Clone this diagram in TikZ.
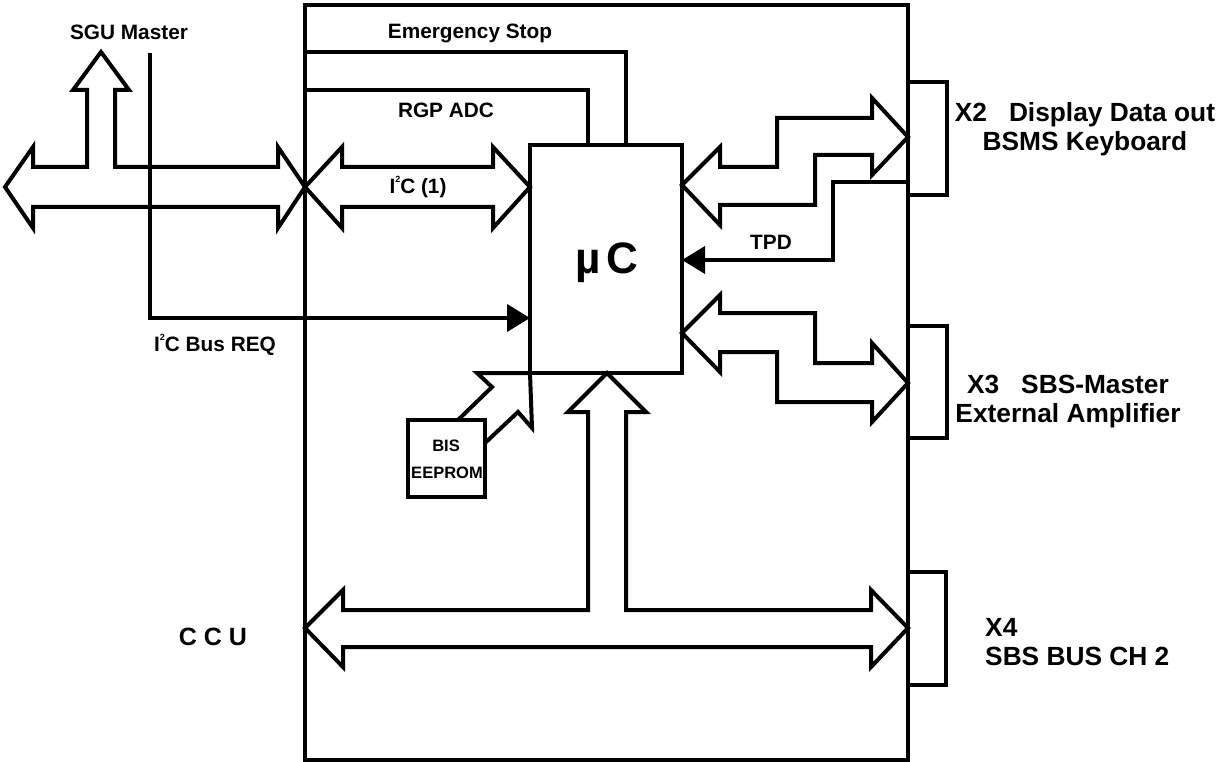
\documentclass[tikz,border=0pt]{standalone}
\usepackage{fontspec}
\setmainfont{Liberation Sans}
\usetikzlibrary{arrows.meta}
\newcommand{\tinysup}[1]{\raisebox{0.5em}{\fontsize{9}{9}\selectfont #1}}
\tikzset{
  wire/.style={line width=4pt, line join=miter},
  blockarrow/.style={line width=4pt, line join=miter},
  lbl/.style={font=\fontsize{20.8}{24}\selectfont\bfseries, inner sep=0pt},
  biglbl/.style={font=\fontsize{26.3}{29}\selectfont\bfseries, inner sep=0pt},
  smalllbl/.style={font=\fontsize{16.5}{19}\selectfont\bfseries, inner sep=0pt},
  boxshape/.style={draw, line width=4pt, inner sep=0pt, outer sep=0pt, rectangle},
  filledtip/.style={-{Triangle[length=23pt,width=27pt]}}
}
\begin{document}
\begin{tikzpicture}[x=1pt,y=-1pt]
\useasboundingbox (0,0) rectangle (1216,762);

% boxes
\node[boxshape, minimum width=603pt, minimum height=755pt] (main) at (606.5,382.5) {};
\node[boxshape, minimum width=152pt, minimum height=228pt] (uc) at (606,259) {};
\node[boxshape, minimum width=77pt, minimum height=77pt] (eeprom) at (446.5,458.5) {};

% connectors X2, X3, X4
\draw[wire] (main.east |- 0,82) -- (947,82) -- (947,195) -- (main.east |- 0,195);
\draw[wire] (main.east |- 0,326) -- (947,326) -- (947,438) -- (main.east |- 0,438);
\draw[wire] (main.east |- 0,572) -- (946,572) -- (946,685) -- (main.east |- 0,685);

% SGU T-arrow
\draw[blockarrow] (5,187) -- (33,147) -- (33,167) -- (87,167) -- (87,90) -- (73,90) -- (101,52)
  -- (129,90) -- (115,90) -- (115,167) -- (278,167) -- (278,147) -- (main.west |- 0,187)
  -- (278,228) -- (278,207) -- (33,207) -- (33,228) -- cycle;

% I2C (1) double arrow
\draw[blockarrow] (main.west |- 0,187) -- (342,147) -- (342,167) -- (493,167) -- (493,147)
  -- (uc.west |- 0,187) -- (493,228) -- (493,207) -- (342,207) -- (342,228) -- cycle;

% Emergency stop and RGP ADC
\draw[wire] (main.west |- 0,52) -- (626,52) -- (uc.north -| 626,0);
\draw[wire] (main.west |- 0,90) -- (588,90) -- (uc.north -| 588,0);

% I2C Bus REQ
\draw[wire, filledtip] (150,53) -- (150,318) -- (uc.west |- 0,318);

% TPD
\draw[wire, filledtip] (main.east |- 0,182) -- (833,182) -- (833,260) -- (uc.east |- 0,260);

% right double arrow to X2
\draw[blockarrow] (uc.east |- 0,185) -- (720,147) -- (720,167) -- (777,167) -- (777,118) -- (872,118)
  -- (872,98) -- (main.east |- 0,137) -- (872,175) -- (872,155) -- (815,155) -- (815,205)
  -- (720,205) -- (720,225) -- cycle;

% right double arrow to X3
\draw[blockarrow] (uc.east |- 0,333) -- (720,295) -- (720,313) -- (815,313) -- (815,363) -- (872,363)
  -- (872,343) -- (main.east |- 0,383) -- (872,422) -- (872,402) -- (777,402) -- (777,352)
  -- (720,352) -- (720,372) -- cycle;

% EEPROM arrow
\draw[blockarrow] (eeprom.north -| 458,0) -- (492,387) -- (477,373) -- (uc.south west) -- (532,428)
  -- (518,412) -- (eeprom.east |- 0,443);

% bus T-arrow (CCU - X4)
\draw[blockarrow] (main.west |- 0,628) -- (343,590) -- (343,610) -- (588,610) -- (588,412) -- (568,412)
  -- (uc.south -| 607,0) -- (646,412) -- (626,412) -- (626,610) -- (871,610) -- (871,590)
  -- (main.east |- 0,628) -- (871,667) -- (871,647) -- (343,647) -- (343,667) -- cycle;

% labels
\node[lbl] (sgu) at (129,32) {SGU Master};
\node[lbl] (estop) at (470,33) {Emergency Stop};
\node[lbl] (rgp) at (446,110) {RGP ADC};
\node[lbl] (i2c) at (418,187) {I\tinysup{2}C (1)};
\node[lbl] (req) at (215,345) {I\tinysup{2}C Bus REQ};
\node[lbl] (tpd) at (771,242) {TPD};
\node[smalllbl] (bis) at (446,446) {BIS};
\node[smalllbl] (eep) at (447,473) {EEPROM};
\node[font=\fontsize{44}{44}\selectfont\bfseries, inner sep=0pt, anchor=base] (uctext) at (607,273) {µ\hspace{5pt}C};
\node[font=\fontsize{25}{28}\selectfont\bfseries, inner sep=0pt] (ccu) at (213,637) {C C U};
\node[biglbl, align=center] (x2) at (1085,129) {X2\ \ \ Display Data out\\BSMS Keyboard};
\node[biglbl, align=center] (x3) at (1068,402) {X3\ \ \ SBS-Master\\External Amplifier};
\node[biglbl, align=left, anchor=west] (x4) at (985,642) {X4\\SBS BUS CH 2};
\end{tikzpicture}
\end{document}
